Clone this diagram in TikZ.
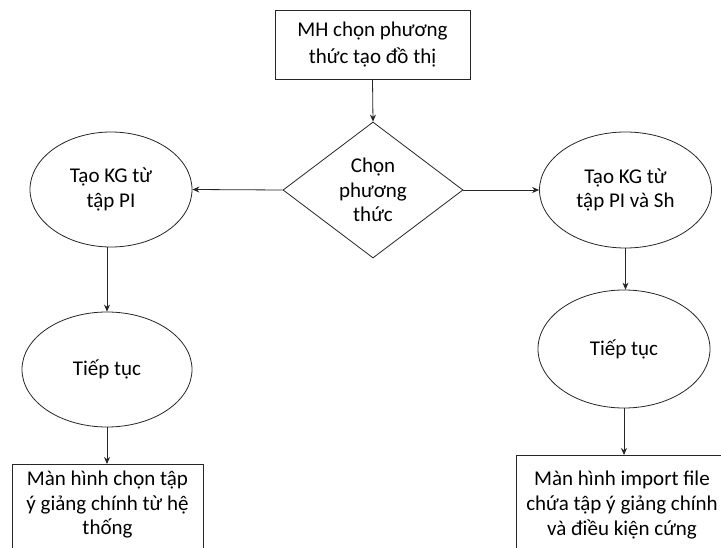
\documentclass[tikz,border=0pt]{standalone}
\usepackage{fontspec}
\setmainfont{Carlito}
\usetikzlibrary{shapes.geometric,arrows.meta}
\tikzset{
  base/.style={draw=black!85, line width=0.8pt, inner sep=0pt, align=center, font=\fontsize{21}{24.5}\selectfont},
  boxnode/.style={base, rectangle},
  ovalnode/.style={base, ellipse},
  decnode/.style={base, diamond},
  conn/.style={draw=black!85, line width=0.8pt, -{Stealth[length=7pt,width=6pt]}}
}
\begin{document}
\begin{tikzpicture}[x=1pt,y=-1pt]
\clip (0,0) rectangle (721,548);
\fill[white] (0,0) rectangle (721,548);
\node[boxnode, minimum width=195pt, minimum height=69pt, font=\fontsize{21}{27}\selectfont] (top) at (372.5,44.5) {MH chọn phương\\thức tạo đồ thị};
\node[decnode, minimum width=180pt, minimum height=136pt] (dec) at (373,190) {Chọn\\phương\\thức};
\node[ovalnode, minimum width=162pt, minimum height=115pt] (l1) at (111,189.5) {Tạo KG từ\\tập PI};
\node[ovalnode, minimum width=172pt, minimum height=116pt] (r1) at (625.5,190) {Tạo KG từ\\tập PI và Sh};
\node[ovalnode, minimum width=170pt, minimum height=115pt] (l2) at (107,369.5) {Tiếp tục};
\node[ovalnode, minimum width=172pt, minimum height=118pt] (r2) at (624,349) {Tiếp tục};
\node[boxnode, minimum width=191pt, minimum height=96pt, anchor=north] (l3) at (107.5,464) {};
\node[align=center, font=\fontsize{21}{24.5}\selectfont, anchor=north, inner sep=0pt] (l3t) at (107.5,471) {Màn hình chọn tập\\ý giảng chính từ hệ\\thống};
\node[boxnode, minimum width=212pt, minimum height=100pt, anchor=north] (r3) at (622,455) {};
\node[align=center, font=\fontsize{21}{25}\selectfont, anchor=north, inner sep=0pt] (r3t) at (622,470.5) {Màn hình import file\\chứa tập ý giảng chính\\và điều kiện cứng};
\draw[conn] (top.south) -- (dec.north);
\draw[conn] (dec.west) -- (l1.east);
\draw[conn] (dec.east) -- (r1.west);
\draw[conn] (l2.north |- l1.south) -- (l2.north);
\draw[conn] (r1.south) -- (r1.south |- r2.north);
\draw[conn] (l2.south) -- (l2.south |- l3.north);
\draw[conn] (r2.south) -- (r2.south |- r3.north);
\end{tikzpicture}
\end{document}
